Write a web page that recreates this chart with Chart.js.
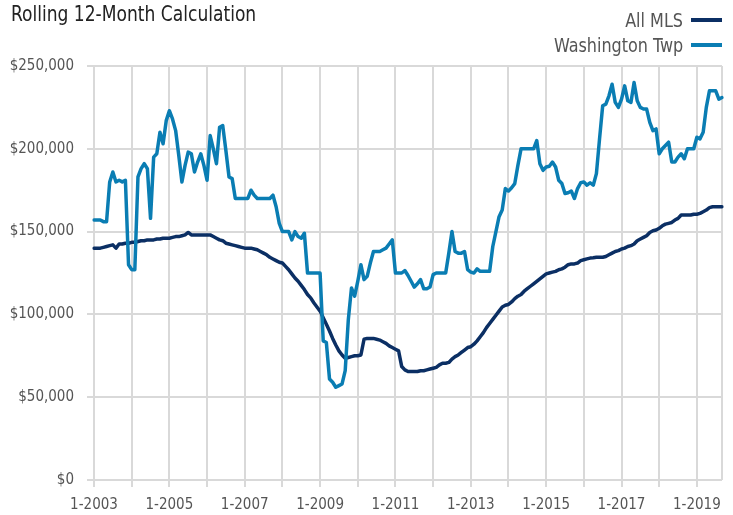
<!DOCTYPE html>
<html>
<head>
<meta charset="utf-8">
<script src="https://cdn.jsdelivr.net/npm/chart.js@4/dist/chart.umd.min.js"></script>
<style>
  html, body { margin: 0; padding: 0; background: #fff; }
  #wrap { position: relative; width: 733px; height: 515px; overflow: hidden;
          font-family: 'DejaVu Sans Condensed', 'Liberation Sans', sans-serif; }
  #c { position: absolute; left: 0; top: 0; }
  #title { position: absolute; left: 11px; top: 1px; font-size: 21px; color: #222; line-height: 26px;
           transform: scaleX(0.905); transform-origin: left center; white-space: nowrap; }
  .leg { position: absolute; right: 11px; font-size: 20px; color: #555; line-height: 24px;
         display: flex; align-items: center; white-space: nowrap; }
  .leg .txt { display: inline-block; transform: scaleX(0.89); transform-origin: right center; }
  .leg .sw { display: inline-block; width: 31px; height: 4px; margin-left: 8px; }
</style>
</head>
<body>
<div id="wrap">
  <canvas id="c" width="733" height="515"></canvas>
  <div id="title">Rolling 12-Month Calculation</div>
  <div class="leg" style="top:8px"><span class="txt">All MLS</span><span class="sw" style="background:#0b2f64"></span></div>
  <div class="leg" style="top:33px"><span class="txt">Washington Twp</span><span class="sw" style="background:#0a7db3"></span></div>
</div>
<script>
// Categories: monthly, Jan 2003 .. Sep 2019
const startYear = 2003;
const endYear = 2019;
const endMonth = 9;
const months = [];
for (let y = startYear; y <= endYear; y++) {
  for (let m = 1; m <= 12; m++) {
    if (y === endYear && m > endMonth) break;
    months.push(m + '-' + y);
  }
}

const seriesNames = ['All MLS', 'Washington Twp'];

const allMLS = [
  140000,140000,140000,140500,141000,141500,142000,140000,142500,142500,143000,143000,
  143500,143500,144000,144500,144500,145000,145000,145000,145500,145500,146000,146000,
  146000,146500,147000,147000,147500,148000,149500,148000,148000,148000,148000,148000,
  148000,148000,147000,146000,145000,144500,143000,142500,142000,141500,141000,140500,
  140000,140000,140000,139500,139000,138000,137000,136000,134500,133500,132500,131500,
  131000,129000,127000,124500,122000,120000,117500,115000,112000,110000,107000,104500,
  102000,98000,94000,90000,85500,81500,78000,75500,73500,74000,74500,75000,
  75000,75500,85000,85500,85500,85500,85000,84500,83500,82500,81000,80000,
  79000,78000,68500,66500,65500,65500,65500,65500,66000,66000,66500,67000,
  67500,68000,69500,70500,70500,71000,73000,74500,75500,77000,78500,80000,
  80500,82000,84000,86500,89000,92000,94500,97000,99500,102000,104500,105500,
  106000,107500,109500,111000,112000,114000,115500,117000,118500,120000,121500,123000,
  124500,125000,125500,126000,127000,127500,128500,130000,130500,130500,131000,132500,
  133000,133500,134000,134200,134500,134500,134500,135000,136000,137000,138000,138500,
  139500,140000,141000,141500,142500,144500,145500,146500,147500,149500,150500,151000,
  152000,153500,154500,155000,155500,157000,158000,160000,160000,160000,160000,160500,
  160500,161000,162000,163000,164500,165000,165000,165000,165000
];

const washingtonTwp = [
  157000,157000,157000,156000,156000,180000,186000,180000,181000,180000,181000,130000,
  127000,127000,183000,188000,191000,188000,158000,195000,197000,210000,203000,217000,
  223000,218000,211000,196000,180000,190000,198000,197000,186000,192000,197000,190000,
  181000,208000,200000,191000,213000,214000,199000,183000,182000,170000,170000,170000,
  170000,170000,175000,172000,170000,170000,170000,170000,170000,172000,165000,155000,
  150000,150000,150000,145000,150000,147000,146000,149000,125000,125000,125000,125000,
  125000,84000,83000,61000,59000,56000,57000,58000,66000,97000,116000,111000,
  120000,130000,121000,123000,131000,138000,138000,138000,139000,140000,142500,145000,
  125000,125000,125000,126500,123500,120000,116500,118500,121000,115500,115500,116500,
  124000,125000,125000,125000,125000,137000,150000,138000,137000,137000,138000,127000,
  125500,125000,127500,126000,126000,126000,126000,141000,150000,159000,163000,176000,
  174500,176500,179000,190000,200000,200000,200000,200000,200000,205000,191000,187000,
  189000,189500,192000,189000,181000,179000,173000,173500,174500,170000,176000,179500,
  180000,178000,179500,178000,185000,206000,226000,227000,232000,239000,228000,225000,
  230000,238000,229000,228000,240000,229000,225000,224000,224000,216000,211000,212000,
  197000,200000,202000,204000,192000,192000,195000,197000,194000,200000,200000,200000,
  207000,206000,210000,225000,235000,235000,235000,230000,231000
];

const yTicks = [0, 50000, 100000, 150000, 200000, 250000];

const FONT = "'DejaVu Sans Condensed', 'Liberation Sans', sans-serif";
const GRID = '#d9d9d9';
const last = months.length - 1;

new Chart(document.getElementById('c'), {
  type: 'line',
  data: {
    labels: months,
    datasets: [
      { label: seriesNames[1], data: washingtonTwp, borderColor: '#0a7db3', backgroundColor: '#0a7db3',
        borderWidth: 3.5, pointRadius: 0, tension: 0, borderJoinStyle: 'round', borderCapStyle: 'round' },
      { label: seriesNames[0], data: allMLS, borderColor: '#0b2f64', backgroundColor: '#0b2f64',
        borderWidth: 3.5, pointRadius: 0, tension: 0, borderJoinStyle: 'round', borderCapStyle: 'round' }
    ]
  },
  options: {
    responsive: false,
    animation: false,
    devicePixelRatio: 1,
    layout: { padding: { top: 66, right: 11, left: 0, bottom: 0 } },
    plugins: { legend: { display: false }, title: { display: false }, tooltip: { enabled: false } },
    scales: {
      x: {
        type: 'category',
        offset: false,
        border: { display: false },
        grid: {
          color: ctx => (ctx.index % 12 === 0 || ctx.index === last) ? GRID : 'rgba(0,0,0,0)',
          tickColor: ctx => (ctx.index % 12 === 0) ? GRID : 'rgba(0,0,0,0)',
          lineWidth: 2,
          tickLength: 7,
          drawTicks: true
        },
        ticks: {
          autoSkip: false,
          maxRotation: 0,
          minRotation: 0,
          padding: 9,
          color: '#555',
          font: { family: FONT, size: 15 },
          callback: function (val, idx) { return idx % 24 === 0 ? months[idx] : ''; }
        },
        afterFit: s => { s.height = 35; }
      },
      y: {
        min: yTicks[0],
        max: yTicks[yTicks.length - 1],
        border: { display: false },
        grid: { color: GRID, lineWidth: 2, tickLength: 7 },
        afterBuildTicks: s => { s.ticks = yTicks.map(v => ({ value: v })); },
        ticks: {
          padding: 13,
          color: '#555',
          font: { family: FONT, size: 15 },
          callback: v => '$' + Number(v).toLocaleString('en-US')
        },
        afterFit: s => { s.width = 94; }
      }
    }
  }
});
</script>
</body>
</html>
